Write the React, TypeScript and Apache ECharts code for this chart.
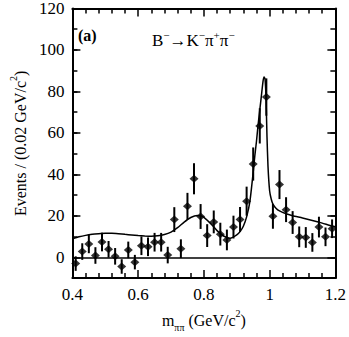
import React, { useEffect, useRef } from "react";
import * as echarts from "echarts";

const binCenters = [
  0.41, 0.43, 0.45, 0.47, 0.49, 0.51, 0.53, 0.55, 0.57, 0.59,
  0.61, 0.63, 0.65, 0.67, 0.69, 0.71, 0.73, 0.75, 0.77, 0.79,
  0.81, 0.83, 0.85, 0.87, 0.89, 0.91, 0.93, 0.95, 0.97, 0.99,
  1.01, 1.03, 1.05, 1.07, 1.09, 1.11, 1.13, 1.15, 1.17, 1.19,
];
const events = [
  -3.0, 2.8, 6.5, 0.9, 7.4, 3.9, 0.5, -4.4, 3.6, -2.3,
  5.6, 5.1, 7.3, 7.3, 1.1, 18.2, 4.2, 24.6, 37.9, 19.7,
  10.5, 17.1, 11.2, 8.4, 14.6, 18.3, 27.1, 45.0, 63.4, 77.3,
  19.8, 35.1, 23.0, 16.8, 9.9, 9.6, 7.2, 14.6, 9.9, 13.8,
];
const errors = [
  3.5, 4, 4.5, 4, 4.5, 4, 4, 3.5, 4, 3.5,
  4.5, 4.5, 4.5, 4.5, 4, 6, 4.5, 6.5, 7.5, 6,
  5.5, 5.5, 5.5, 5, 5.5, 6, 7, 8, 8.5, 9,
  6, 7, 6, 5.5, 5, 5, 4.5, 5, 4.5, 4.5,
];
const fitMass = [
  0.4, 0.42, 0.44, 0.46, 0.48, 0.5, 0.52, 0.54, 0.56, 0.58,
  0.6, 0.62, 0.64, 0.66, 0.68, 0.7, 0.72, 0.74, 0.76, 0.78,
  0.79, 0.8, 0.82, 0.84, 0.86, 0.88, 0.9, 0.91, 0.92, 0.93,
  0.94, 0.95, 0.955, 0.96, 0.965, 0.97, 0.975, 0.98, 0.983, 0.986,
  0.989, 0.992, 0.995, 1.0, 1.005, 1.01, 1.02, 1.03, 1.05, 1.07,
  1.1, 1.13, 1.16, 1.19, 1.2,
];
const fitEvents = [
  9.0, 9.9, 10.6, 11.1, 11.4, 11.6, 11.6, 11.4, 11.1, 10.8,
  10.5, 10.3, 10.2, 10.4, 11.0, 12.2, 14.3, 17.0, 19.2, 20.2,
  20.1, 19.3, 16.4, 12.9, 10.3, 9.2, 10.8, 12.4, 15.0, 19.5,
  27, 41, 49, 56, 64, 71, 78, 85, 87, 86,
  77, 58, 44, 32, 28, 25.7, 23.6, 22.4, 21.0, 20.1,
  19.0, 17.8, 16.5, 15.1, 14.8,
];
const yLabelValues = [0, 20, 40, 60, 80, 100, 120];

const FONT = "'Liberation Serif', 'DejaVu Serif', serif";

export default function App() {
  const ref = useRef<HTMLDivElement>(null);
  useEffect(() => {
    if (!ref.current) return;
    const chart = echarts.init(ref.current, undefined, { renderer: "svg" });
    const tickStyle = { color: "#000", width: 1.5 };
    const xCommon = {
      type: "value",
      min: 0.4,
      max: 1.2,
      interval: 0.2,
      splitLine: { show: false },
      axisLine: { show: true, onZero: false, lineStyle: { color: "#000", width: 2 } },
      axisTick: { show: true, inside: true, length: 8, lineStyle: tickStyle },
      minorTick: { show: true, splitNumber: 5, length: 5, lineStyle: tickStyle },
    };
    const yMinor = {
      type: "value",
      min: -10,
      max: 120,
      interval: 10,
      splitLine: { show: false },
      axisLine: { show: true, onZero: false, lineStyle: { color: "#000", width: 2 } },
      axisTick: { show: true, inside: true, length: 5, lineStyle: tickStyle },
    };
    const yMajor = {
      type: "value",
      min: -10,
      max: 120,
      interval: 10,
      splitLine: { show: false },
      axisLine: { show: false },
      axisLabel: { show: false },
      axisTick: { show: true, inside: true, length: 8, lineStyle: tickStyle, customValues: yLabelValues },
    };
    const option = {
      animation: false,
      backgroundColor: "#fff",
      textStyle: { fontFamily: FONT },
      grid: { left: 63, right: 11, top: 7, bottom: 55 },
      xAxis: [
        {
          ...xCommon,
          position: "bottom",
          name: "{m|m}{sub|ππ}{m| (GeV/c}{sup|2}{m|)}",
          nameLocation: "middle",
          nameGap: 27,
          nameTextStyle: {
            rich: {
              m: { fontFamily: FONT, fontSize: 16, color: "#000", verticalAlign: "bottom", lineHeight: 20 },
              sub: { fontFamily: FONT, fontSize: 10, color: "#000", verticalAlign: "bottom", padding: [0, 0, -4, 0] },
              sup: { fontFamily: FONT, fontSize: 10, color: "#000", verticalAlign: "top" },
            },
          },
          axisLabel: {
            show: true,
            fontFamily: FONT,
            fontSize: 17,
            color: "#000",
            margin: 8,
            formatter: (v: number) => String(Math.round(v * 10) / 10),
          },
        },
        { ...xCommon, position: "top", axisLabel: { show: false } },
      ],
      yAxis: [
        {
          ...yMinor,
          position: "left",
          name: "{m|Events / (0.02 GeV/c}{sup|2}{m|)}",
          nameLocation: "middle",
          nameGap: 44,
          nameTextStyle: {
            rich: {
              m: { fontFamily: FONT, fontSize: 16, color: "#000", verticalAlign: "bottom", lineHeight: 20 },
              sup: { fontFamily: FONT, fontSize: 10, color: "#000", verticalAlign: "top" },
            },
          },
          axisLabel: {
            show: true,
            fontFamily: FONT,
            fontSize: 17,
            color: "#000",
            margin: 8,
            customValues: yLabelValues,
          },
        },
        { ...yMajor, position: "left" },
        { ...yMinor, position: "right", axisLabel: { show: false } },
        { ...yMajor, position: "right" },
      ],
      graphic: [
        {
          type: "text",
          left: 78,
          top: 27,
          style: { text: "(a)", fontFamily: FONT, fontSize: 16, fontWeight: "bold", fill: "#000" },
        },
        {
          type: "text",
          left: 152,
          top: 29,
          style: {
            text: "{n|B}{s|−}{n|→K}{s|−}{n|π}{s|+}{n|π}{s|−}",
            rich: {
              n: { fontFamily: FONT, fontSize: 17, fill: "#000", verticalAlign: "bottom", lineHeight: 20 },
              s: { fontFamily: FONT, fontSize: 11, fill: "#000", verticalAlign: "top" },
            },
          },
        },
      ],
      series: [
        {
          type: "line",
          xAxisIndex: 0,
          yAxisIndex: 0,
          data: fitMass.map((m, i) => [m, fitEvents[i]]),
          showSymbol: false,
          smooth: 0.2,
          lineStyle: { color: "#000", width: 1.5 },
          silent: true,
          markLine: {
            silent: true,
            symbol: ["none", "none"],
            label: { show: false },
            lineStyle: { color: "#000", width: 1.5, type: "solid" },
            data: [{ yAxis: 0 }],
          },
          z: 3,
        },
        {
          type: "custom",
          xAxisIndex: 0,
          yAxisIndex: 0,
          data: binCenters.map((m, i) => [m, events[i] - errors[i], events[i] + errors[i]]),
          renderItem: (params: any, api: any) => {
            const p1 = api.coord([api.value(0), api.value(1)]);
            const p2 = api.coord([api.value(0), api.value(2)]);
            return {
              type: "line",
              shape: { x1: p1[0], y1: p1[1], x2: p2[0], y2: p2[1] },
              style: { stroke: "#000", lineWidth: 2 },
            };
          },
          z: 4,
        },
        {
          type: "scatter",
          xAxisIndex: 0,
          yAxisIndex: 0,
          data: binCenters.map((m, i) => [m, events[i]]),
          symbol: "diamond",
          symbolSize: [9, 8],
          itemStyle: { color: "#000" },
          z: 5,
        },
      ],
    };
    chart.setOption(option as any);
    return () => chart.dispose();
  }, []);
  return (
    <div
      ref={ref}
      style={{ position: "absolute", left: 0, top: 0, width: 349, height: 337 }}
    />
  );
}
